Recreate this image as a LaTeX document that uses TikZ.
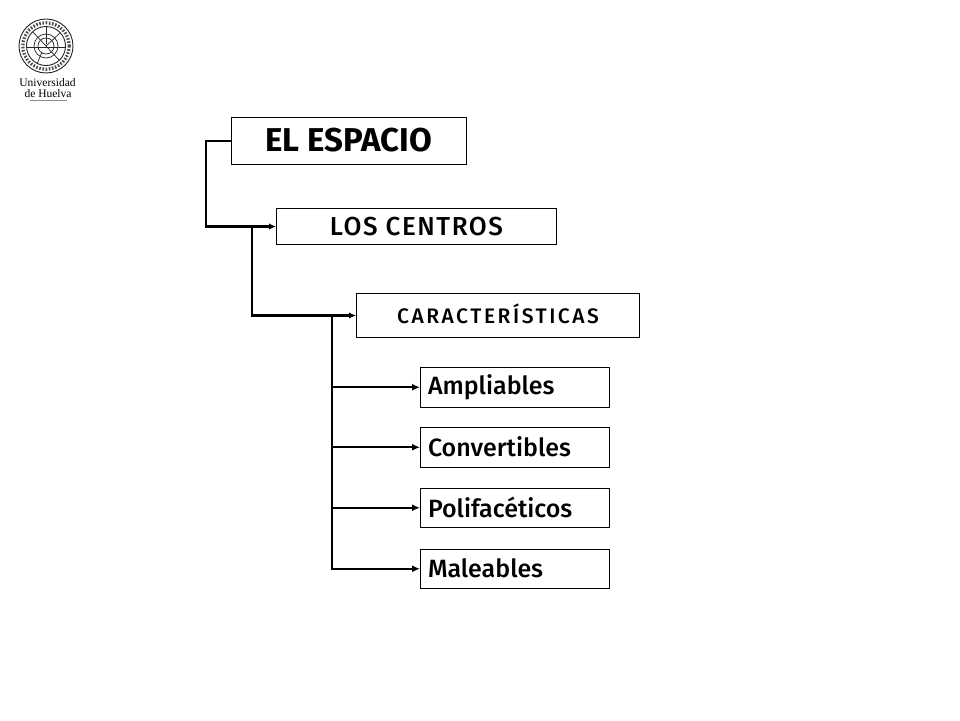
\documentclass[tikz,border=0pt]{standalone}
\usepackage{fontspec}
\setmainfont{Fira Sans}
\newfontfamily\medf{Fira Sans Medium}
\newfontfamily\medfs[LetterSpace=6]{Fira Sans Medium}
\newfontfamily\medfw[LetterSpace=12]{Fira Sans Medium}
\newfontfamily\logofont{Liberation Serif}
\usetikzlibrary{arrows.meta}
\tikzset{
  box/.style={draw=black,line width=1pt,fill=white,inner sep=0pt,anchor=north west,text=black},
  big/.style={box,font=\fontsize{33}{36}\selectfont\bfseries,align=center},
  mid/.style={box,font=\medfs\fontsize{26}{30}\selectfont,align=center},
  sm/.style={box,font=\medfw\fontsize{21}{24}\selectfont,align=center},
  item/.style={box,font=\medf\fontsize{25}{28}\selectfont,align=left,text width=174pt,minimum width=189pt,minimum height=39.5pt},
  trunk/.style={line width=2.6pt,line cap=rect,line join=miter},
  arr/.style={line width=2.1pt,-{Latex[length=8pt,width=7pt]}},
  arrb/.style={line width=2.6pt,-{Latex[length=7pt,width=6.5pt]}},
  logo/.style={line width=0.7pt,black!85}
}
\begin{document}
\begin{tikzpicture}[x=1pt,y=-1pt]
\useasboundingbox (0,0) rectangle (960,720);
\fill[white] (0,0) rectangle (960,720);
% boxes
\node[big,minimum width=235.5pt,minimum height=47pt] (el) at (230.5,117) {\raisebox{2pt}{EL ESPACIO}};
\node[mid,minimum width=280pt,minimum height=36pt] (los) at (276,208) {\raisebox{0.5pt}{LOS CENTROS}};
\node[sm,minimum width=283pt,minimum height=44pt] (car) at (356,293) {\raisebox{4pt}{CARACTERÍSTICAS}};
\node[item] (amp) at (420,367) {Ampliables};
\node[item] (con) at (420,427) {\raisebox{1pt}{Convertibles}};
\node[item] (pol) at (420,487.5) {\raisebox{1.5pt}{Polifacéticos}};
\node[item] (mal) at (420,548.5) {\raisebox{1pt}{Maleables}};
% junctions
\coordinate (c0) at (206,141);
\coordinate (j1) at (252,226.5);
\coordinate (j2) at (332,315.5);
% connectors
\draw[trunk] (el.west) -- (c0) |- (j1);
\draw[arrb] (j1) -- (los.west);
\draw[trunk] (j1) |- (j2);
\draw[arrb] (j2) -- (car.west);
\draw[trunk] (j2) |- (mal.west -| j2);
\draw[arr] (amp.west -| j2) -- (amp.west);
\draw[arr] (con.west -| j2) -- (con.west);
\draw[arr] (pol.west -| j2) -- (pol.west);
\draw[arr] (mal.west -| j2) -- (mal.west);
% logo
\coordinate (lc) at (46,46);
\draw[logo,line width=0.9pt] (lc) circle (27);
\draw[logo,line width=0.9pt] (lc) circle (19.5);
\draw[black!70,line width=3.2pt,dash pattern=on 1.6pt off 1.6pt] (lc) circle (23.2);
\draw[logo] (lc) circle (12);
\draw[logo] (lc) circle (8);
\draw[logo] (26.5,47) -- (65.5,47);
\draw[logo] (46,26.5) -- (46,44);
\draw[logo] (46,46) -- (59,60);
\draw[logo] (42,52) -- (37,64);
\draw[logo] (46,46) -- (33,32);
\draw[logo] (46,46) -- (60,33);
% logo text
\node[inner sep=0pt,font=\logofont\fontsize{11.5}{11.5}\selectfont,text=black,align=center] (ulogo) at (47.5,83) {Universidad};
\node[inner sep=0pt,font=\logofont\fontsize{11.5}{11.5}\selectfont,text=black,align=center] (hlogo) at (48,93.5) {de Huelva};
\draw[black!45,line width=0.7pt] (30,100.5) -- (67,100.5);
\end{tikzpicture}
\end{document}
